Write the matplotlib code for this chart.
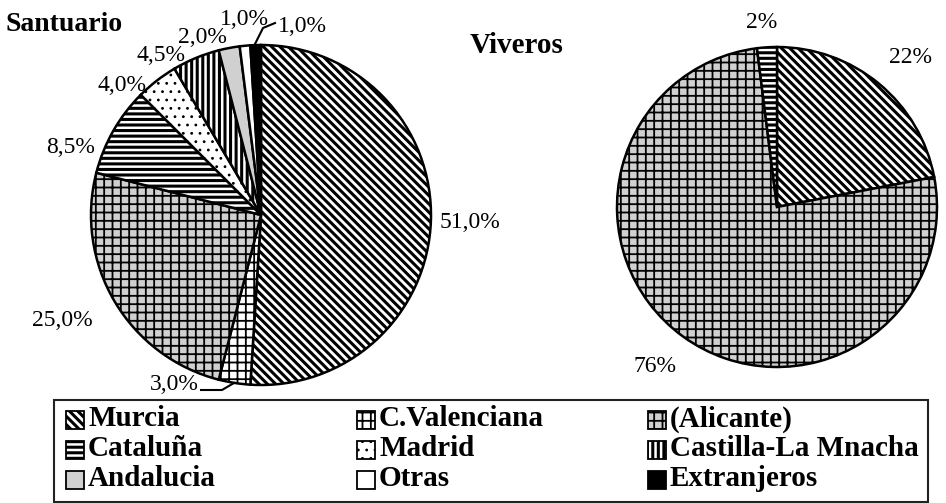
import matplotlib
matplotlib.use('Agg')
import matplotlib.pyplot as plt
import matplotlib.patches as mpatches

plt.rcParams['font.family'] = ['Liberation Serif', 'DejaVu Serif']
plt.rcParams['hatch.linewidth'] = 2.0

# datos
regiones = ['Murcia', 'C.Valenciana', '(Alicante)', 'Cataluña', 'Madrid',
            'Castilla-La Mnacha', 'Andalucia', 'Otras', 'Extranjeros']
santuario = [51.0, 3.0, 25.0, 8.5, 4.0, 4.5, 2.0, 1.0, 1.0]
viveros_regiones = ['Murcia', '(Alicante)', 'Cataluña']
viveros = [22, 76, 2]

# estilo de cada region: (relleno, trama, grosor trama)
estilo = {
    'Murcia': ('white', '\\\\\\\\', 2.2),
    'C.Valenciana': ('white', '++', 1.3),
    '(Alicante)': ('#d0d0d0', '++', 1.3),
    'Cataluña': ('white', '---', 2.2),
    'Madrid': ('white', '..', 0.8),
    'Castilla-La Mnacha': ('white', '|||', 2.2),
    'Andalucia': ('#d0d0d0', '', 1.0),
    'Otras': ('white', '', 1.0),
    'Extranjeros': ('black', '', 1.0),
}

W, H = 946, 503
def py(y):
    # pixel row (from top) -> data y
    return H - y

fig = plt.figure(figsize=(W / 100, H / 100), dpi=100)
ax = fig.add_axes([0, 0, 1, 1])


def tarta(regs, vals, center, r):
    wedges, _ = ax.pie(vals, startangle=90, counterclock=False,
                       center=center, radius=r,
                       colors=[estilo[g][0] for g in regs],
                       hatch=[estilo[g][1] for g in regs],
                       wedgeprops=dict(edgecolor='black', linewidth=1.8))
    for w, g in zip(wedges, regs):
        if hasattr(w, 'set_hatch_linewidth'):
            w.set_hatch_linewidth(estilo[g][2])
    return wedges


tarta(regiones, santuario, (261, py(215)), 170)
tarta(viveros_regiones, viveros, (777, py(207)), 160)

# etiquetas Santuario (posicion en pixeles)
pos_s = [(470, 222), (174, 384), (62, 320), (71, 147), (122, 85),
         (161, 55), (202, 37), (244, 19), (302, 26)]
for v, (x, y) in zip(santuario, pos_s):
    ax.text(x, py(y), f'{v:.1f}%'.replace('.', ','), fontsize=17,
            ha='center', va='center')

# lineas guia
ax.plot([201, 222, 234], [py(390), py(390), py(383)], color='black', lw=1.5)
ax.plot([255, 263, 275], [py(44), py(28), py(23)], color='black', lw=1.5)

pos_v = [(910, 57), (655, 366), (762, 22)]
for v, (x, y) in zip(viveros, pos_v):
    ax.text(x, py(y), f'{v}%', fontsize=17, ha='center', va='center')

ax.text(5, py(24), 'Santuario', fontsize=20, fontweight='bold', va='center')
ax.text(470, py(45), 'Viveros', fontsize=21, fontweight='bold', va='center')

# leyenda
ax.add_patch(mpatches.Rectangle((54, py(502)), 874, 102, facecolor='white',
                                edgecolor='#222222', lw=1.5))
for i, g in enumerate(regiones):
    fila, col = i // 3, i % 3
    x = 66 + 291 * col
    y = 420 + 30 * fila
    fc, hat, hlw = estilo[g]
    p = mpatches.Rectangle((x, py(y) - 9), 18, 18, facecolor=fc, hatch=hat,
                           edgecolor='black', lw=1.3)
    if hasattr(p, 'set_hatch_linewidth'):
        p.set_hatch_linewidth(hlw)
    ax.add_patch(p)
    ax.text(x + 22, py(y) + 1, g, fontsize=21, fontweight='bold',
            va='center')

ax.set_xlim(0, W)
ax.set_ylim(0, H)
ax.set_aspect('equal')
ax.axis('off')

fig.savefig('out.png', dpi=100)
